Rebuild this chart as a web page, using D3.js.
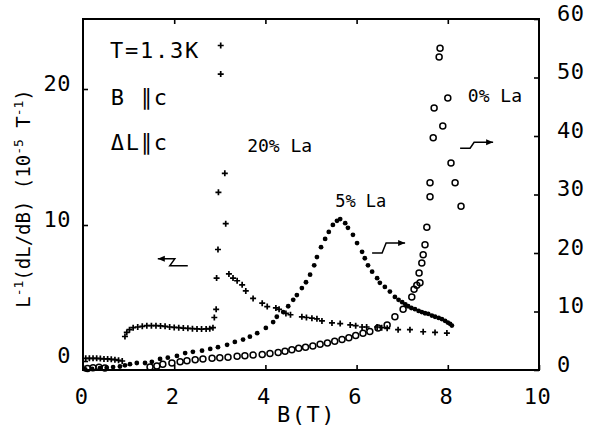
<!DOCTYPE html>
<html>
<head>
<meta charset="utf-8">
<script src="https://cdn.jsdelivr.net/npm/d3@7"></script>
<style>
  html, body { margin: 0; padding: 0; background: #fff; }
  svg { display: block; }
  text { font-family: "DejaVu Sans Mono", monospace; fill: #000; }
</style>
</head>
<body>
<svg id="chart" width="595" height="428"></svg>
<script>
// Magnetostriction coefficient L^-1 dL/dB versus field B (T) at 1.3 K.
// 20% La sample (left axis, "+" markers)
const la20 = [
  [0.06,0.2],[0.14,0.2],[0.22,0.2],[0.30,0.2],[0.38,0.18],[0.46,0.15],[0.54,0.15],[0.62,0.12],[0.70,0.1],[0.78,0.05],[0.86,0.0],
  [0.92,1.8],[0.96,2.1],[1.02,2.3],[1.1,2.45],[1.2,2.5],[1.3,2.55],[1.4,2.6],[1.5,2.6],[1.6,2.6],[1.7,2.58],[1.8,2.55],
  [1.9,2.5],[2.0,2.47],[2.1,2.45],[2.2,2.42],[2.3,2.4],[2.4,2.38],[2.5,2.36],[2.6,2.35],[2.7,2.36],[2.78,2.38],[2.85,2.45],
  [2.88,3.2],[2.92,3.8],[2.93,6.1],[2.96,8.2],[2.97,12.4],[3.02,21.1],[3.02,23.2],[3.11,13.8],[3.13,10.1],
  [3.2,6.4],[3.29,6.1],[3.38,5.9],[3.49,5.6],[3.57,5.15],[3.73,4.6],[3.93,4.25],[4.04,4.0],[4.23,3.9],[4.3,3.8],
  [4.45,3.5],[4.55,3.4],[4.8,3.25],[4.9,3.2],[5.02,3.15],[5.13,3.1],[5.24,2.95],[5.46,2.8],[5.64,2.75],[5.86,2.65],
  [5.98,2.6],[6.12,2.5],[6.22,2.5],[6.45,2.5],[6.55,2.45],[6.67,2.4],[6.91,2.3],[7.17,2.3],[7.46,2.15],[7.72,2.1],[7.98,2.05]
];

// 5% La sample (right axis, filled dots)
const la5 = [
  [0.05,0.1],[0.2,0.2],[0.37,0.3],[0.52,0.4],[0.66,0.5],[0.81,0.6],[0.92,0.8],[1.03,1.0],[1.18,1.2],[1.36,1.2],
  [1.51,1.4],[1.69,1.9],[1.86,2.1],[2.06,2.4],[2.24,2.9],[2.41,3.1],[2.61,3.3],[2.79,3.6],[2.96,3.9],[3.16,4.3],
  [3.33,4.8],[3.51,5.2],[3.66,5.7],[3.82,6.3],[4.01,7.2],[4.17,8.2],[4.25,9.1],[4.39,9.9],[4.5,10.9],[4.61,12.0],
  [4.69,12.8],[4.8,14.0],[4.89,15.0],[4.98,16.3],[5.07,17.9],[5.13,19.3],[5.22,21.0],[5.31,22.4],[5.39,23.6],[5.48,24.8],
  [5.57,25.5],[5.64,25.8],[5.75,25.1],[5.81,24.3],[5.92,23.1],[6.01,21.7],[6.12,20.2],[6.18,19.1],[6.25,17.9],[6.34,16.8],
  [6.45,15.7],[6.51,14.9],[6.62,14.2],[6.73,13.4],[6.84,12.5],[6.92,12.0],[7.0,11.6],[7.07,11.2],[7.13,10.9],[7.2,10.6],
  [7.28,10.4],[7.36,10.1],[7.43,9.9],[7.5,9.7],[7.57,9.6],[7.65,9.3],[7.72,9.1],[7.8,8.9],[7.87,8.7],[7.94,8.4],
  [8.0,8.1],[8.05,7.9],[8.09,7.6]
];

// 0% La sample (right axis, open circles)
const la0 = [
  [0.1,0.25],[0.22,0.4],[0.35,0.45],[0.48,0.35],
  [1.47,0.5],[1.62,0.7],[1.75,1.0],[1.95,1.2],[2.13,1.4],[2.28,1.6],[2.46,1.75],[2.63,1.9],[2.83,2.0],[3.0,2.1],
  [3.18,2.2],[3.38,2.35],[3.55,2.45],[3.73,2.55],[3.93,2.65],[4.1,2.8],[4.28,3.0],[4.43,3.2],[4.58,3.45],[4.73,3.7],
  [4.88,3.9],[5.04,4.1],[5.2,4.4],[5.36,4.6],[5.52,4.9],[5.68,5.2],[5.83,5.5],[5.98,5.9],[6.14,6.3],[6.29,6.6],
  [6.47,7.2],[6.67,7.7],[6.84,9.1],[7.02,10.4],[7.21,12.5],[7.26,13.8],[7.32,14.5],[7.39,14.9],[7.37,16.6],[7.43,18.3],
  [7.46,19.7],[7.5,21.4],[7.54,24.4],[8.29,28.0],[7.61,29.6],[7.61,32.0],[8.16,32.0],[8.07,35.4],[7.68,39.7],[7.89,41.7],
  [7.7,44.8],[8.0,46.5],[7.81,53.5],[7.83,55.0]
];

const xTicks = [0, 2, 4, 6, 8, 10];
const leftTicks = [0, 10, 20];
const rightTicks = [0, 10, 20, 30, 40, 50, 60];

const svg = d3.select("#chart");
const frame = { left: 83, right: 539, top: 19, bottom: 370 };

const x  = d3.scaleLinear().domain([0, 10]).range([frame.left, frame.right]);
const yL = d3.scaleLinear().domain([0, 20]).range([361, 89]);
const yR = d3.scaleLinear().domain([0, 60]).range([frame.bottom, frame.top]);

const tickFont = 22;

// ---- axes (ticks point inward) ----
const gBottom = svg.append("g").attr("transform", `translate(0,${frame.bottom})`)
  .call(d3.axisBottom(x).tickValues(xTicks).tickSizeInner(-5).tickSizeOuter(0).tickFormat(d3.format("d")));
gBottom.selectAll("text").attr("y", 34).attr("dy", 0).attr("dx", -2);

svg.append("g").attr("transform", `translate(0,${frame.top})`)
  .call(d3.axisTop(x).tickValues([2, 4, 6, 8]).tickSizeInner(-5).tickSizeOuter(0).tickFormat(""));

const gLeft = svg.append("g").attr("transform", `translate(${frame.left},0)`)
  .call(d3.axisLeft(yL).tickValues(leftTicks).tickSizeInner(-5).tickSizeOuter(0).tickPadding(12));
gLeft.selectAll("text").attr("dy", 1);

const gRight = svg.append("g").attr("transform", `translate(${frame.right},0)`)
  .call(d3.axisRight(yR).tickValues(rightTicks).tickSizeInner(-5).tickSizeOuter(0).tickPadding(18));
gRight.selectAll("text").attr("dy", 1);

svg.selectAll(".domain").remove();
svg.selectAll(".tick line").attr("stroke", "#000").attr("stroke-width", 1.6);
svg.selectAll(".tick text")
  .style("font-family", '"DejaVu Sans Mono", monospace')
  .style("font-size", tickFont + "px")
  .style("letter-spacing", "0.5px");

// frame box
svg.append("rect")
  .attr("x", frame.left).attr("y", frame.top)
  .attr("width", frame.right - frame.left).attr("height", frame.bottom - frame.top)
  .attr("fill", "none").attr("stroke", "#000").attr("stroke-width", 2);

// ---- data marks ----
const marks = svg.append("g");

// 0% La: open circles
marks.append("g").selectAll("circle").data(la0).join("circle")
  .attr("cx", d => x(d[0])).attr("cy", d => yR(d[1])).attr("r", 3)
  .attr("fill", "none").attr("stroke", "#000").attr("stroke-width", 1.5);

// 5% La: filled dots
marks.append("g").selectAll("circle").data(la5).join("circle")
  .attr("cx", d => x(d[0])).attr("cy", d => yR(d[1])).attr("r", 2.4)
  .attr("fill", "#000");

// 20% La: plus signs
marks.append("g").selectAll("path").data(la20).join("path")
  .attr("transform", d => `translate(${x(d[0])},${yL(d[1])})`)
  .attr("d", "M-3,0H3M0,-3V3")
  .attr("stroke", "#000").attr("stroke-width", 1.7).attr("fill", "none");

// ---- axis titles ----
const yTitle = svg.append("text")
  .attr("transform", `translate(30,${(frame.top + frame.bottom) / 2 + 4}) rotate(-90)`)
  .attr("text-anchor", "middle")
  .style("font-size", "19px");
yTitle.append("tspan").text("L");
yTitle.append("tspan").attr("dy", -7).style("font-size", "13px").text("-1");
yTitle.append("tspan").attr("dy", 7).text("(dL/dB) (10");
yTitle.append("tspan").attr("dy", -7).style("font-size", "13px").text("-5");
yTitle.append("tspan").attr("dy", 7).text(" T");
yTitle.append("tspan").attr("dy", -7).style("font-size", "13px").text("-1");
yTitle.append("tspan").attr("dy", 7).text(")");

svg.append("text")
  .attr("x", x(4.9)).attr("y", 422)
  .attr("text-anchor", "middle")
  .style("font-size", "22px").style("letter-spacing", "1.5px")
  .text("B(T)");

// ---- annotations (positioned in data units, right-axis scale) ----
const notes = [
  { b: 0.59, v: 53.3, t: "T=1.3K", size: 22, ls: 1.8 },
  { b: 0.61, v: 45.3, t: "B ∥c",   size: 22, ls: 1.8 },
  { b: 0.61, v: 37.6, t: "ΔL∥c",   size: 22, ls: 1.8 },
  { b: 3.6,  v: 37.3, t: "20% La", size: 18, ls: 0 },
  { b: 5.53, v: 27.9, t: "5% La",  size: 17, ls: 0 },
  { b: 8.44, v: 45.8, t: "0% La",  size: 18, ls: 0 }
];
svg.append("g").selectAll("text").data(notes).join("text")
  .attr("x", d => x(d.b)).attr("y", d => yR(d.v))
  .style("font-size", d => d.size + "px")
  .style("letter-spacing", d => d.ls + "px")
  .text(d => d.t);

// step arrows pointing to the axis each curve belongs to
const arrows = [
  { b: 1.64, v: 19.0, dir: -1 },        // 20% La -> left axis
  { b: 6.34, v: 20.0, dir: 1, h: 10 },  // 5% La -> right axis
  { b: 8.27, v: 37.9, dir: 1, h: 6 }    // 0% La -> right axis
];
const ag = svg.append("g");
arrows.forEach(a => {
  const ax = x(a.b), ay = yR(a.v);
  let path, head;
  if (a.dir < 0) {
    // tip at left on the upper stroke, Z-step, lower stroke to the right
    path = `M${ax},${ay} H${ax + 17} L${ax + 12},${ay + 7} H${ax + 30}`;
    head = `M${ax},${ay} L${ax + 7},${ay - 3} L${ax + 7},${ay + 3} Z`;
  } else {
    // lower stroke on the left, step up, upper stroke ends in the tip
    const h = a.h;
    path = `M${ax},${ay} H${ax + 10} L${ax + 14},${ay - h} H${ax + 33}`;
    const tx = ax + 33, ty = ay - h;
    head = `M${tx},${ty} L${tx - 7},${ty - 3} L${tx - 7},${ty + 3} Z`;
  }
  ag.append("path").attr("d", path).attr("fill", "none").attr("stroke", "#000").attr("stroke-width", 1.5);
  ag.append("path").attr("d", head).attr("fill", "#000");
});
</script>
</body>
</html>
